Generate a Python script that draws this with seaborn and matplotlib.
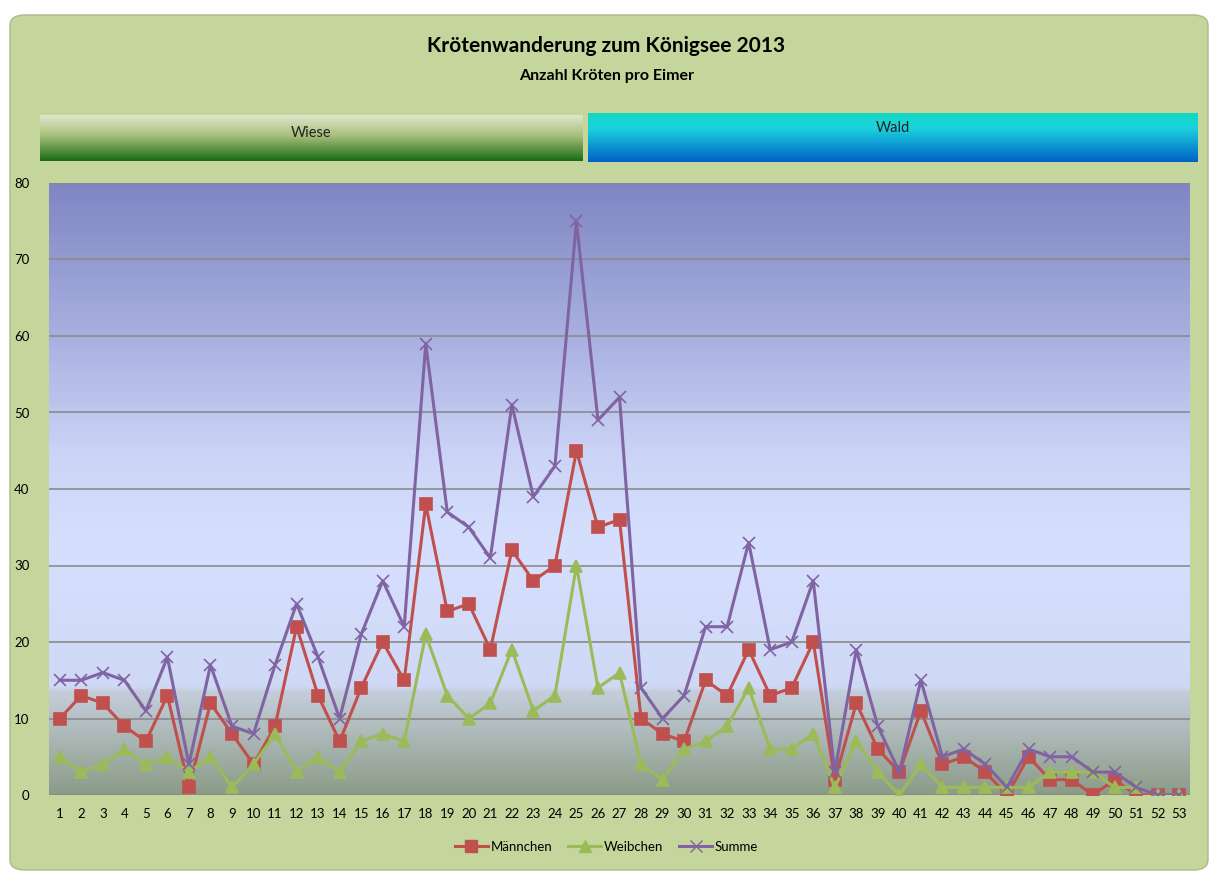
"""
Krötenwanderung zum Königsee 2013 - Anzahl Kröten pro Eimer.
"""

import numpy as np
import pandas as pd
import matplotlib
matplotlib.use("Agg")
import matplotlib.pyplot as plt
import seaborn as sns
from matplotlib.colors import LinearSegmentedColormap
from matplotlib.patches import FancyBboxPatch

# Eimer-Nummern
eimer = list(range(1, 54))

maennchen = [10, 13, 12, 9, 7, 13, 1, 12, 8, 4, 9, 22, 13, 7, 14, 20, 15, 38, 24, 25,
             19, 32, 28, 30, 45, 35, 36, 10, 8, 7, 15, 13, 19, 13, 14, 20, 2, 12, 6, 3,
             11, 4, 5, 3, 0, 5, 2, 2, 0, 2, 0, 0, 0]
weibchen = [5, 3, 4, 6, 4, 5, 3, 5, 1, 4, 8, 3, 5, 3, 7, 8, 7, 21, 13, 10,
            12, 19, 11, 13, 30, 14, 16, 4, 2, 6, 7, 9, 14, 6, 6, 8, 1, 7, 3, 0,
            4, 1, 1, 1, 1, 1, 3, 3, 3, 1, 1, 0, 0]
summe = [15, 15, 16, 15, 11, 18, 4, 17, 9, 8, 17, 25, 18, 10, 21, 28, 22, 59, 37, 35,
         31, 51, 39, 43, 75, 49, 52, 14, 10, 13, 22, 22, 33, 19, 20, 28, 3, 19, 9, 3,
         15, 5, 6, 4, 1, 6, 5, 5, 3, 3, 1, 0, 0]

serien = ["Männchen", "Weibchen", "Summe"]
farben = {"Männchen": "#C0504D", "Weibchen": "#9BBB59", "Summe": "#8064A2"}
marker = {"Männchen": "s", "Weibchen": "^", "Summe": "x"}

bereiche = ["Wiese", "Wald"]

df = pd.DataFrame({"Eimer": eimer, "Männchen": maennchen,
                   "Weibchen": weibchen, "Summe": summe})

W, H = 1213, 872
fig = plt.figure(figsize=(W / 100, H / 100), dpi=100)
fig.patch.set_facecolor("white")
plt.rcParams["font.family"] = ["Lato", "DejaVu Sans"]

# green rounded chart area
panel = FancyBboxPatch((10 / W, 1 - 870 / H), 1198 / W, 855 / H,
                       boxstyle="round,pad=0,rounding_size=0.012",
                       transform=fig.transFigure, facecolor="#C5D69C",
                       edgecolor="#A9B98A", linewidth=1.0, zorder=-10)
fig.patches.append(panel)

fig.text(0.5, 1 - 46 / H, "Krötenwanderung zum Königsee 2013", ha="center",
         va="center", fontsize=15, fontweight="bold", color="black")
fig.text(0.5, 1 - 76 / H, "Anzahl Kröten pro Eimer", ha="center", va="center",
         fontsize=11.5, fontweight="bold", color="black")

# Wiese / Wald header boxes
box_cmaps = {
    "Wiese": LinearSegmentedColormap.from_list(
        "wiese", [(0, "#DDE7CC"), (0.45, "#A7BF7A"), (1, "#1B6B18")]),
    "Wald": LinearSegmentedColormap.from_list(
        "wald", [(0, "#14D6C2"), (0.3, "#1BD3DD"), (1, "#0062C6")]),
}
box_pos = {"Wiese": (40, 583, 115, 161), "Wald": (588, 1198, 113, 162)}
text_y = {"Wiese": 0.6, "Wald": 0.7}
grad = np.linspace(0, 1, 100).reshape(-1, 1)
for name in bereiche:
    x0, x1, y0, y1 = box_pos[name]
    bax = fig.add_axes([x0 / W, 1 - y1 / H, (x1 - x0) / W, (y1 - y0) / H])
    bax.imshow(grad, aspect="auto", cmap=box_cmaps[name], extent=(0, 1, 0, 1))
    bax.set_axis_off()
    bax.text(0.5, text_y[name], name, ha="center", va="center", fontsize=10.5,
             color="#222222", transform=bax.transAxes)

# main plot
ax = fig.add_axes([49 / W, 1 - 795 / H, 1141 / W, 612 / H])
ax.patch.set_alpha(0)
bg_cmap = LinearSegmentedColormap.from_list("bg", [
    (0.0, "#8D9C89"), (0.165, "#C4CDDA"), (0.175, "#CFD9F6"),
    (0.4, "#D6E0FE"), (0.55, "#CCD5F7"), (0.75, "#A9B0E0"), (1.0, "#7F86C2")])
ax.imshow(np.linspace(0, 1, 300).reshape(-1, 1), origin="lower", aspect="auto",
          cmap=bg_cmap, extent=(0.5, 53.5, 0, 80), zorder=0)

for y in range(10, 81, 10):
    ax.axhline(y, color="#8A8A8A", linewidth=1.2, zorder=1)
ax.axhline(0, color="#8A8A8A", linewidth=1.5, zorder=1)

for name in serien:
    sns.lineplot(data=df, x="Eimer", y=name, color=farben[name],
                 marker=marker[name], markersize=8, linewidth=2.2,
                 markeredgewidth=1.2, markeredgecolor=farben[name],
                 ax=ax, zorder=3, label=name, legend=False)

ax.set_xlim(0.5, 53.5)
ax.set_ylim(0, 80)
ax.set_xticks(eimer)
ax.set_xticklabels([str(e) for e in eimer], fontsize=9.5)
ax.set_yticks(range(0, 81, 10))
ax.set_yticklabels([str(v) for v in range(0, 81, 10)], fontsize=9.5)
ax.tick_params(axis="x", length=0, pad=9)
ax.tick_params(axis="y", length=0, pad=14)
ax.set_xlabel("")
ax.set_ylabel("")
for s in ax.spines.values():
    s.set_visible(False)

handles = [plt.Line2D([], [], color=farben[n], marker=marker[n], markersize=8,
                      markeredgecolor=farben[n], linewidth=2.2) for n in serien]
fig.legend(handles, serien, loc="center", bbox_to_anchor=(0.5, 1 - 847 / H),
           ncol=3, frameon=False, fontsize=9.5, handlelength=2.5,
           handletextpad=0.2, columnspacing=1.2)

fig.savefig("out.png", dpi=100)
